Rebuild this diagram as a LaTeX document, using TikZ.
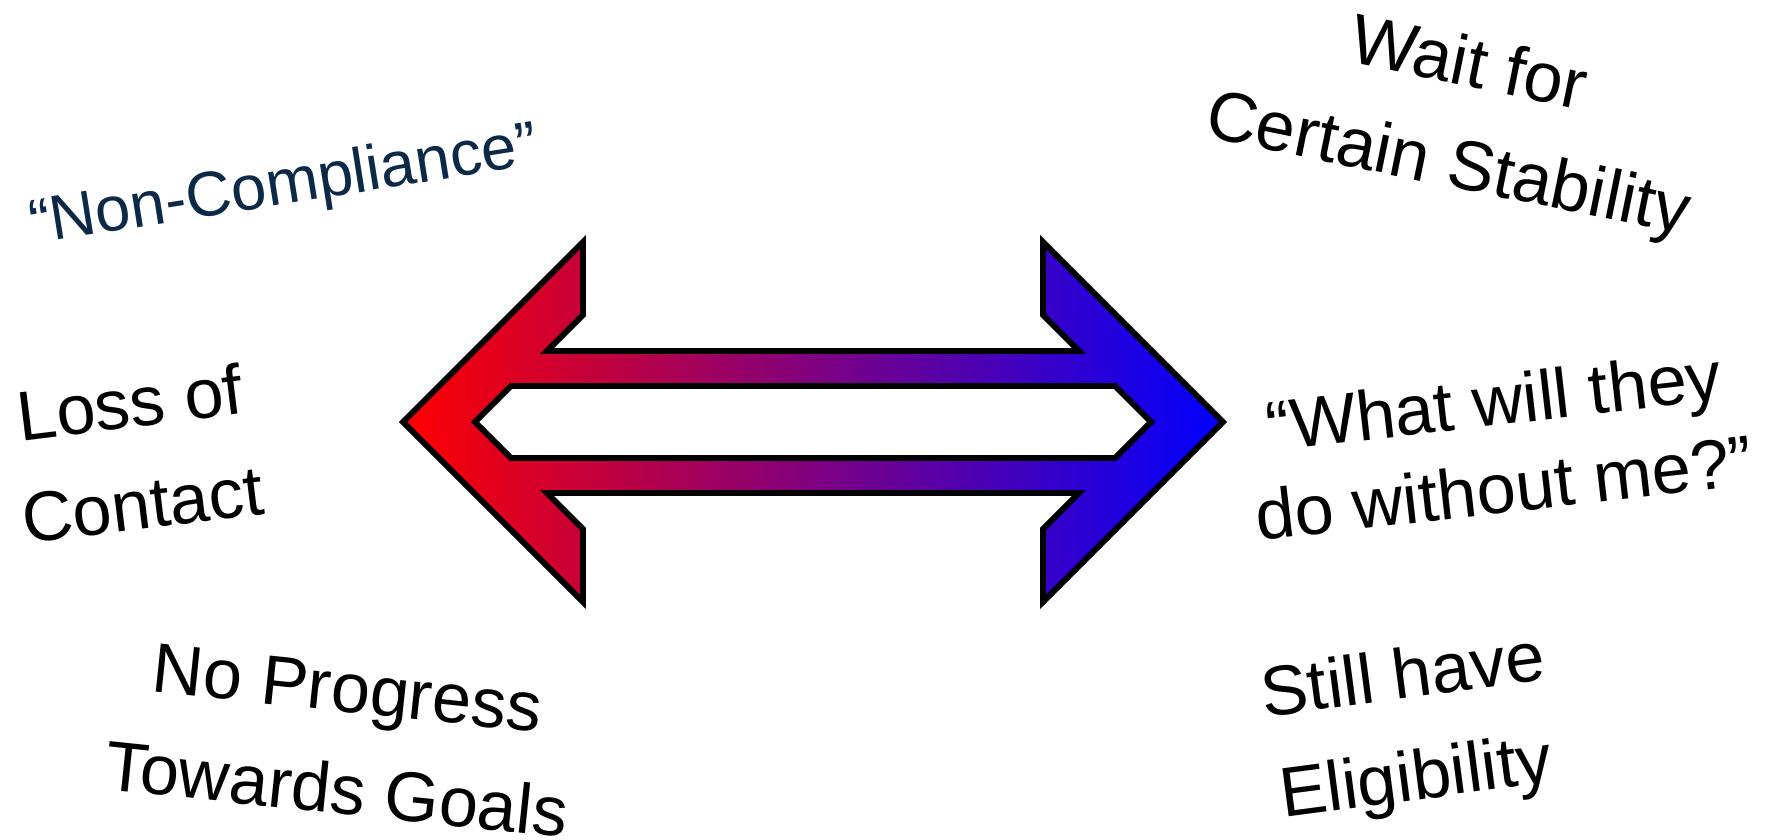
\documentclass[tikz,border=0pt]{standalone}
\usepackage{fontspec}
\setmainfont{Liberation Sans}
\usetikzlibrary{positioning}
\definecolor{navytext}{RGB}{12,42,72}
\definecolor{arrowleft}{RGB}{255,0,0}
\definecolor{arrowright}{RGB}{0,0,255}
\tikzset{
  tiltlabel/.style={
    font=\fontsize{20}{29}\selectfont, align=center, inner sep=0pt
  },
  bigarrow/.style={
    draw=black, line width=1.7pt, line join=miter,
    left color=arrowleft, right color=arrowright, even odd rule
  }
}

\begin{document}
\begin{tikzpicture}
  \useasboundingbox (0,0) rectangle (17.72,8.40);

  % Double arrow with the hollow middle bar
  \begin{scope}[shift={(8.13,4.18)}]
    \shadedraw[bigarrow]
      (-4.10,0) -- (-2.30,1.80) -- (-2.30,1.07) -- (-2.66,0.71)
      -- (2.66,0.71) -- (2.30,1.07) -- (2.30,1.80) -- (4.10,0)
      -- (2.30,-1.80) -- (2.30,-1.07) -- (2.66,-0.71)
      -- (-2.66,-0.71) -- (-2.30,-1.07) -- (-2.30,-1.80) -- cycle
      (-3.38,0) -- (-3.02,0.36) -- (3.02,0.36) -- (3.38,0)
      -- (3.02,-0.36) -- (-3.02,-0.36) -- cycle;
  \end{scope}

  % Left side
  \node[tiltlabel, font=\fontsize{18}{26}\selectfont, text=navytext, rotate=9]
    (noncomp) at (2.84,6.52) {“Non-Compliance”};
  \node[tiltlabel, rotate=7] (losscontact) at (1.36,3.87) {Loss of\\Contact};
  \node[tiltlabel, rotate=-6] (noprogress) at (3.42,1.01) {No Progress\\Towards Goals};

  % Right side
  \node[tiltlabel, rotate=-11.5] (waitstab) at (14.58,7.22) {Wait for\\Certain Stability};
  \node[tiltlabel, font=\fontsize{20}{25}\selectfont, rotate=6.5]
    (withoutme) at (14.99,3.96) {“What will they\\do without me?”};
  \node[tiltlabel, rotate=7.5] (eligible) at (14.10,1.09) {Still have\\Eligibility};
\end{tikzpicture}
\end{document}
